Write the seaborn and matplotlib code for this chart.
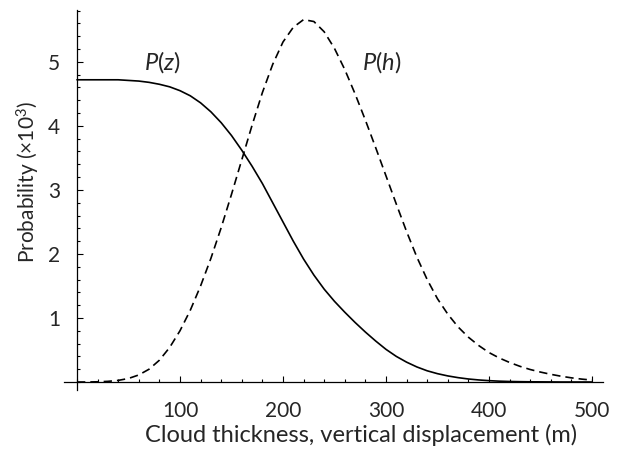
import numpy as np
import pandas as pd
import matplotlib
matplotlib.use('Agg')
import matplotlib.pyplot as plt
import seaborn as sns
from matplotlib.ticker import MultipleLocator

# --- DATA ---
Z_M = [0, 10, 20, 30, 40, 50, 60, 70, 80, 90,
       100, 110, 120, 130, 140, 150, 160, 170, 180, 190,
       200, 210, 220, 230, 240, 250, 260, 270, 280, 290,
       300, 310, 320, 330, 340, 350, 360, 370, 380, 390,
       400, 410, 420, 430, 440, 450, 460, 470, 480, 490, 500]

# cloud thickness distribution (solid)
P_Z = [4.72, 4.72, 4.72, 4.72, 4.72, 4.71, 4.70, 4.68, 4.65, 4.61,
       4.55, 4.47, 4.36, 4.22, 4.05, 3.85, 3.62, 3.37, 3.10, 2.80,
       2.50, 2.20, 1.92, 1.67, 1.45, 1.26, 1.09, 0.93, 0.78, 0.64,
       0.51, 0.40, 0.31, 0.235, 0.175, 0.13, 0.095, 0.068, 0.047, 0.032,
       0.021, 0.013, 0.008, 0.005, 0.003, 0.002, 0.001, 0.0, 0.0, 0.0, 0.0]

# vertical displacement distribution (dashed)
P_H = [0.0, 0.0, 0.003, 0.01, 0.025, 0.055, 0.11, 0.20, 0.34, 0.54,
       0.80, 1.12, 1.50, 1.93, 2.41, 2.93, 3.47, 4.01, 4.52, 4.96,
       5.31, 5.54, 5.66, 5.63, 5.47, 5.21, 4.88, 4.50, 4.09, 3.66,
       3.22, 2.78, 2.35, 1.95, 1.60, 1.30, 1.06, 0.86, 0.70, 0.57,
       0.46, 0.375, 0.305, 0.245, 0.195, 0.155, 0.12, 0.09, 0.065, 0.045, 0.03]

X_TICKS = [100, 200, 300, 400, 500]
Y_TICKS = [1, 2, 3, 4, 5]
# ---------------------------------------------

sns.set_theme(style='white')
plt.rcParams['font.family'] = ['Lato', 'DejaVu Sans']
plt.rcParams['mathtext.fontset'] = 'custom'
plt.rcParams['mathtext.rm'] = 'Lato'
plt.rcParams['mathtext.it'] = 'Lato:italic'

df = pd.DataFrame({
    'z': Z_M * 2,
    'prob': P_Z + P_H,
    'curve': ['P(z)'] * len(Z_M) + ['P(h)'] * len(Z_M),
})

fig = plt.figure(figsize=(6.17, 4.54), dpi=100)
ax = fig.add_axes([64 / 617, 1 - 390 / 454, 539 / 617, 380 / 454])

sns.lineplot(data=df, x='z', y='prob', style='curve', color='black',
             dashes={'P(z)': '', 'P(h)': (5, 3)}, linewidth=1.2,
             legend=False, ax=ax)

ax.set_xlim(-12.6, 510.7)
ax.set_ylim(-0.125, 5.81)

# Mathematica-style axes crossing at the origin
for side in ['top', 'right']:
    ax.spines[side].set_visible(False)
ax.spines['left'].set_position(('data', 0))
ax.spines['bottom'].set_position(('data', 0))
for side in ['left', 'bottom']:
    ax.spines[side].set_color('black')
    ax.spines[side].set_linewidth(0.9)

ax.set_xticks(X_TICKS)
ax.set_yticks(Y_TICKS)
ax.set_yticklabels([str(v) for v in Y_TICKS])
ax.xaxis.set_minor_locator(MultipleLocator(20))
ax.yaxis.set_minor_locator(MultipleLocator(0.2))
ax.tick_params(which='both', direction='in', color='black', width=0.8,
               bottom=True, left=True)
ax.tick_params(which='major', length=4, labelsize=15)
ax.tick_params(which='minor', length=2)
ax.tick_params(axis='x', which='major', pad=14)
ax.tick_params(axis='y', which='major', pad=12)

ax.set_xlabel('Cloud thickness, vertical displacement (m)', fontsize=17)
ax.set_ylabel('Probability (×10$^{3}$)', fontsize=15)
ax.xaxis.set_label_coords(0.551, -0.09)
ax.yaxis.set_label_coords(-0.04, 0.547)

ax.text(83, 5.0, '$P(z)$', fontsize=17, ha='center', va='center')
ax.text(296, 5.0, '$P(h)$', fontsize=17, ha='center', va='center')

plt.savefig('out.png', dpi=100)
plt.close()
